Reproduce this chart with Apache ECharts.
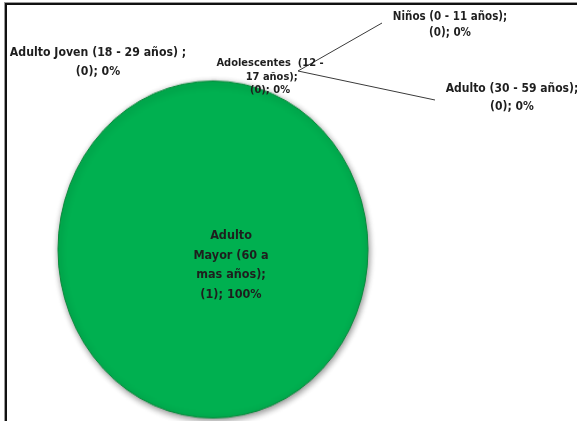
<!DOCTYPE html>
<html>
<head>
<meta charset="utf-8">
<script src="https://cdn.jsdelivr.net/npm/echarts@6/dist/echarts.min.js"></script>
<style>
  html, body { margin: 0; padding: 0; width: 577px; height: 421px; overflow: hidden; background: #fff; }
  #pie { position: absolute; left: 0; top: 0; width: 577px; height: 421px; transform: scaleY(1.087); transform-origin: 0 249.5px; }
  #labels { position: absolute; left: 0; top: 0; width: 577px; height: 421px; }
  #frame { position: absolute; left: 5px; top: 3px; width: 700px; height: 600px; border-top: 2px solid #111; border-left: 2px solid #111; box-shadow: -1px -1px 0 #9a9a9a; pointer-events: none; }
</style>
</head>
<body>
<div id="pie"></div>
<div id="labels"></div>
<div id="frame"></div>
<script>
// ---- data ----
const categories = ['Niños (0 - 11 años)', 'Adolescentes  (12 - 17 años)', 'Adulto Joven (18 - 29 años) ', 'Adulto (30 - 59 años)', 'Adulto Mayor (60 a mas años)'];
const values = [0, 0, 0, 0, 1];

// ---- layout / style (not data) ----
const FONT = "'Liberation Sans Narrow', 'DejaVu Sans Condensed', 'Noto Sans', sans-serif";
const center = [213, 249.5];
const radius = 155;
// wordsPerLine: how many space-separated words of the name go on each wrapped line
const labelBoxes = [
  { x: 450, y: 25, size: 11.5, lh: 16 },
  { x: 270, y: 77, size: 11, lh: 13.5, width: 108 },
  { x: 98, y: 62, size: 12.2, lh: 19 },
  { x: 512, y: 98, size: 12, lh: 18 },
  { x: 231, y: 265, size: 12.5, lh: 19.5, wordsPerLine: [1, 3] }
];
const guideLines = {
  0: [[298, 71], [382, 23]],
  3: [[298, 71], [435, 100]]
};

const pieData = categories.map((c, i) => ({ name: c, value: values[i] }));

function wrapName(name, spec) {
  if (!spec) return name;
  const words = name.split(' ');
  const lines = [];
  let k = 0;
  spec.forEach(n => { lines.push(words.slice(k, k + n).join(' ')); k += n; });
  if (k < words.length) lines.push(words.slice(k).join(' '));
  return lines.join('\n');
}

// ---- chart A: pie (scaled vertically into an ellipse) ----
const chartA = echarts.init(document.getElementById('pie'), null, { renderer: 'canvas' });
chartA.setOption({
  animation: false,
  series: [{
    type: 'pie',
    center: center,
    radius: radius,
    startAngle: 90,
    clockwise: true,
    silent: true,
    label: { show: false },
    labelLine: { show: false },
    itemStyle: {
      color: '#00b050',
      borderColor: '#0a8a3c',
      borderWidth: 1,
      shadowBlur: 6,
      shadowColor: 'rgba(0,0,0,0.45)',
      shadowOffsetX: 1,
      shadowOffsetY: 2
    },
    data: pieData
  }]
});

// ---- chart B: labels overlay (same pie, invisible sectors) ----
const chartB = echarts.init(document.getElementById('labels'), null, { renderer: 'canvas' });
chartB.setOption({
  animation: false,
  series: [{
    type: 'pie',
    center: center,
    radius: radius,
    startAngle: 90,
    clockwise: true,
    silent: true,
    avoidLabelOverlap: false,
    itemStyle: { color: 'rgba(0,0,0,0)' },
    label: {
      show: true,
      position: 'outside',
      fontFamily: FONT,
      fontWeight: 'bold',
      color: '#1e1e1e',
      align: 'center',
      formatter: function (p) {
        const spec = labelBoxes[p.dataIndex].wordsPerLine;
        return wrapName(p.name, spec) + ';\n(' + p.value + '); ' + Math.round(p.percent) + '%';
      }
    },
    labelLine: { show: true, length: 10, length2: 10, lineStyle: { color: '#3a3a3a', width: 1 } },
    labelLayout: function (params) {
      const b = labelBoxes[params.dataIndex];
      const out = { x: b.x, y: b.y, align: 'center', verticalAlign: 'middle', fontSize: b.size };
      if (guideLines[params.dataIndex]) out.labelLinePoints = guideLines[params.dataIndex];
      return out;
    },
    data: pieData.map((d, i) => {
      const b = labelBoxes[i];
      const item = {
        name: d.name,
        value: d.value,
        label: { fontSize: b.size, lineHeight: b.lh }
      };
      if (b.width) { item.label.width = b.width; item.label.overflow = 'break'; }
      if (!guideLines[i]) item.labelLine = { show: false };
      if (i === 4) item.label.position = 'inside';
      return item;
    })
  }]
});
</script>
</body>
</html>
